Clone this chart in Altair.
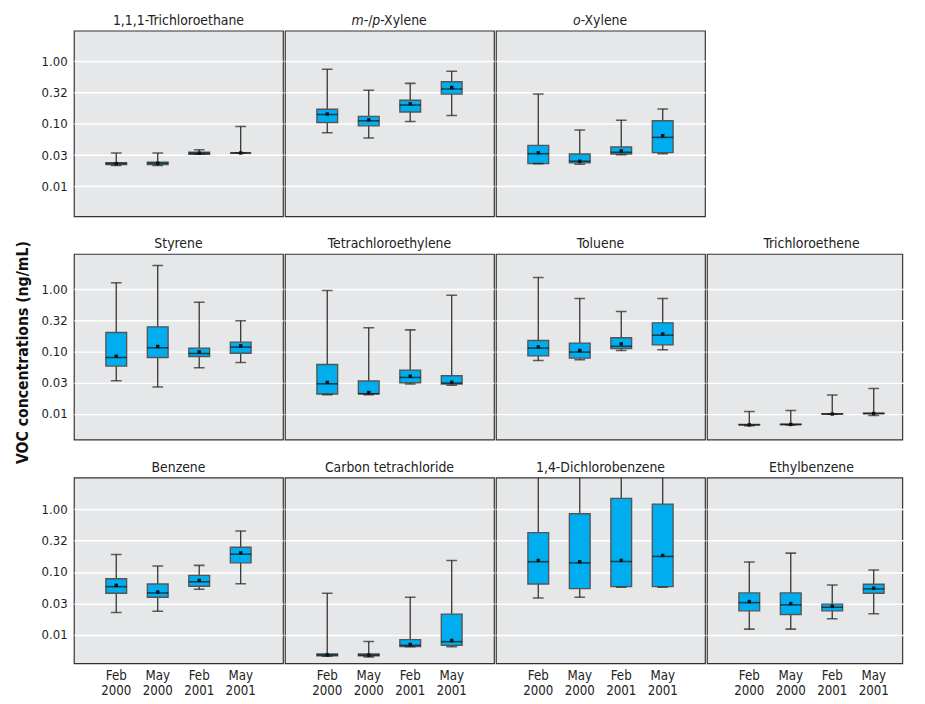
import altair as alt
import pandas as pd

# ---------------- data ----------------
PERIODS = ["Feb 2000", "May 2000", "Feb 2001", "May 2001"]

ROW1 = ["1,1,1-Trichloroethane", "m-/p-Xylene", "o-Xylene"]
ROW2 = ["Styrene", "Tetrachloroethylene", "Toluene", "Trichloroethene"]
ROW3 = ["Benzene", "Carbon tetrachloride", "1,4-Dichlorobenzene", "Ethylbenzene"]
COMPOUNDS = ROW1 + ROW2 + ROW3

# one list of 4 periods per compound, compound order as COMPOUNDS
LOW = [
    [0.0216, 0.0216, 0.0327, 0.0343],
    [0.072, 0.0593, 0.109, 0.136],
    [0.0232, 0.0226, 0.0322, 0.0334],
    [0.0343, 0.0271, 0.0553, 0.0673],
    [0.0205, 0.0205, 0.0303, 0.029],
    [0.0726, 0.0745, 0.105, 0.1076],
    [0.0065, 0.0067, 0.0099, 0.0095],
    [0.0228, 0.0239, 0.0533, 0.0653],
    [0.0046, 0.0045, 0.0065, 0.0065],
    [0.0388, 0.0398, 0.0575, 0.0575],
    [0.0124, 0.0124, 0.0181, 0.0217],
]
Q1 = [
    [0.0223, 0.0223, 0.0327, 0.0343],
    [0.105, 0.093, 0.155, 0.299],
    [0.0232, 0.0238, 0.033, 0.0347],
    [0.059, 0.081, 0.084, 0.095],
    [0.021, 0.0212, 0.0318, 0.0303],
    [0.086, 0.079, 0.113, 0.129],
    [0.0067, 0.0068, 0.0100, 0.0102],
    [0.046, 0.0398, 0.0594, 0.14],
    [0.00466, 0.00466, 0.00653, 0.00686],
    [0.0646, 0.0545, 0.0586, 0.0586],
    [0.0242, 0.0212, 0.0242, 0.046],
]
MEDIAN = [
    [0.0232, 0.0235, 0.034, 0.0343],
    [0.141, 0.112, 0.20, 0.36],
    [0.0334, 0.0253, 0.0352, 0.0608],
    [0.081, 0.116, 0.094, 0.119],
    [0.0306, 0.0212, 0.0387, 0.0314],
    [0.1147, 0.099, 0.123, 0.185],
    [0.0067, 0.0068, 0.0100, 0.0102],
    [0.0586, 0.0466, 0.0703, 0.192],
    [0.00484, 0.0048, 0.00686, 0.00784],
    [0.146, 0.14, 0.1476, 0.177],
    [0.0327, 0.0301, 0.0277, 0.054],
]
Q3 = [
    [0.0240, 0.0245, 0.0352, 0.0343],
    [0.171, 0.132, 0.238, 0.471],
    [0.0454, 0.033, 0.0427, 0.112],
    [0.204, 0.252, 0.1147, 0.143],
    [0.0625, 0.0339, 0.0508, 0.0412],
    [0.152, 0.138, 0.168, 0.292],
    [0.0068, 0.0069, 0.0101, 0.0103],
    [0.0784, 0.0646, 0.0887, 0.248],
    [0.00501, 0.0050, 0.00843, 0.0215],
    [0.424, 0.845, 1.48, 1.20],
    [0.0466, 0.0466, 0.0309, 0.064],
]
HIGH = [
    [0.0343, 0.0343, 0.0387, 0.091],
    [0.746, 0.343, 0.443, 0.694],
    [0.299, 0.080, 0.1145, 0.173],
    [1.29, 2.43, 0.627, 0.315],
    [0.964, 0.243, 0.225, 0.813],
    [1.56, 0.717, 0.444, 0.717],
    [0.0110, 0.0114, 0.0202, 0.0258],
    [0.19, 0.1245, 0.1276, 0.45],
    [0.046, 0.0079, 0.0398, 0.153],
    [4.0, 5.0, 6.0, 5.0],
    [0.144, 0.20, 0.0623, 0.1076],
]
MEAN = [
    [0.0232, 0.0235, 0.034, 0.0343],
    [0.144, 0.116, 0.21, 0.382],
    [0.0346, 0.0253, 0.0369, 0.0646],
    [0.085, 0.122, 0.100, 0.125],
    [0.0322, 0.0222, 0.0406, 0.0325],
    [0.12, 0.105, 0.134, 0.194],
    [0.0067, 0.0068, 0.0100, 0.0102],
    [0.0616, 0.0482, 0.074, 0.202],
    [0.00484, 0.0048, 0.0071, 0.0082],
    [0.153, 0.146, 0.153, 0.184],
    [0.034, 0.0316, 0.0285, 0.0555],
]

Y_TICKS = [0.01, 0.0316, 0.1, 0.316, 1.0]
Y_TITLE = "VOC concentrations (ng/mL)"

# ---------------- styling / layout ----------------
FONT = "DejaVu Sans Condensed, DejaVu Sans, sans-serif"
BOX_FILL = "#00AEEF"
ROW_DOMAINS = [[0.00334, 3.07], [0.00389, 3.74], [0.00356, 3.16]]
ROW_HEIGHTS = [190, 190, 190]
PANEL_W = 214
LAST_W = 200
TITLE_SIZE = 14.2
TICK_SIZE = 13.3
YTITLE_X = -52
YTITLE_SHIFT = 6
LEFT_EDGE = -61

# title pieces (italic flags) for some panel headings
TITLE_PIECES = {
    "m-/p-Xylene": [("m", True), ("-/", False), ("p", True), ("-Xylene", False)],
    "o-Xylene": [("o", True), ("-Xylene", False)],
}
CHAR_W = {"m": 974, "-": 361, "/": 337, "p": 635, "X": 685, "y": 592,
          "l": 278, "e": 615, "n": 634, "o": 612}


def text_width(s):
    return sum(CHAR_W.get(c, 600) for c in s) * 0.9 * TITLE_SIZE / 1000.0


def frame(name):
    i = COMPOUNDS.index(name)
    return pd.DataFrame({
        "period": PERIODS,
        "lo": LOW[i], "q1": Q1[i], "med": MEDIAN[i],
        "q3": Q3[i], "hi": HIGH[i], "mean": MEAN[i],
    })


def title_layer(text, xpos, align, italic):
    return alt.Chart(pd.DataFrame({"t": [text]})).mark_text(
        align=align, baseline="alphabetic", font=FONT, fontSize=TITLE_SIZE,
        fontStyle="italic" if italic else "normal", color="#222"
    ).encode(x=alt.value(xpos), y=alt.value(-6), text="t:N")


def panel(name, row, col, width):
    df = frame(name)
    height = ROW_HEIGHTS[row]
    last_row = row == 2
    x_axis = alt.Axis(title=None, labelExpr="split(datum.label, ' ')", ticks=False,
                      domain=False, labelPadding=6, labelFontSize=13.5, labelLineHeight=15,
                      labelAngle=0, labelFont=FONT, labelColor="#222") if last_row else None
    xs = alt.Scale(type="band", domain=PERIODS, paddingInner=0.5, paddingOuter=0.77,
                   range=[0, PANEL_W])
    x = alt.X("period:N", scale=xs, axis=x_axis, sort=PERIODS)

    if col == 0:
        y_axis = alt.Axis(values=Y_TICKS, format=".2f", grid=True, ticks=False, tickSize=0,
                          domain=False, labelPadding=7, labelFontSize=TICK_SIZE, labelFont=FONT,
                          labelColor="#222", title=None)
    else:
        y_axis = alt.Axis(values=Y_TICKS, grid=True, labels=False, ticks=False, tickSize=0,
                          domain=False, title=None)
    ys = alt.Scale(type="log", domain=ROW_DOMAINS[row], nice=False)

    base = alt.Chart(df)
    whisker = base.mark_rule(color="#333", strokeWidth=1.3, clip=True).encode(
        x=x, y=alt.Y("lo:Q", scale=ys, axis=y_axis), y2="hi:Q")
    box = base.mark_bar(fill=BOX_FILL, stroke="#555", strokeWidth=1.4, clip=True).encode(
        x=x, y=alt.Y("q1:Q", scale=ys), y2="q3:Q")
    cap_lo = base.mark_tick(color="#222", size=11, thickness=1.6, clip=True).encode(
        x=x, y=alt.Y("lo:Q", scale=ys))
    cap_hi = base.mark_tick(color="#222", size=11, thickness=1.6, clip=True).encode(
        x=x, y=alt.Y("hi:Q", scale=ys))
    med = base.mark_tick(color="#111", size=21.5, thickness=1.6).encode(
        x=x, y=alt.Y("med:Q", scale=ys))
    mean = base.mark_square(color="#111", size=12, opacity=1).encode(
        x=x, y=alt.Y("mean:Q", scale=ys))

    layers = [whisker, box, cap_lo, cap_hi, med, mean]
    center = PANEL_W / 2

    if name in TITLE_PIECES:
        pieces = TITLE_PIECES[name]
        total = sum(text_width(t) for t, _ in pieces)
        xpos = center - total / 2
        for t, ital in pieces:
            layers.append(title_layer(t, xpos, "left", ital))
            xpos += text_width(t)
    else:
        layers.append(title_layer(name, center, "center", False))

    if col == 0:
        if row == 1:
            layers.append(
                alt.Chart(pd.DataFrame({"t": [Y_TITLE]})).mark_text(
                    angle=270, align="center", baseline="middle", font=FONT,
                    fontSize=16, fontWeight="bold", color="#111"
                ).encode(x=alt.value(YTITLE_X), y=alt.value(height / 2 + YTITLE_SHIFT),
                         text="t:N")
            )
        else:
            # invisible guide keeping the left edge of every row identical
            layers.append(
                base.mark_rule(strokeOpacity=0).encode(
                    x=alt.value(LEFT_EDGE), y=alt.value(height / 2 - 2),
                    y2=alt.value(height / 2 + 2))
            )
    return alt.layer(*layers).properties(width=width, height=height)


rows = []
for r, names in enumerate([ROW1, ROW2, ROW3]):
    charts = [panel(n, r, c, LAST_W if c == 3 else PANEL_W) for c, n in enumerate(names)]
    rows.append(alt.hconcat(*charts, spacing=0))

top_part = alt.vconcat(rows[0], rows[1], spacing=19.5)
chart = alt.vconcat(top_part, rows[2], spacing=-5.5).properties(
    padding={"left": 5.5, "top": -3, "right": 0, "bottom": 0},
).configure_view(
    fill="#E6E7E8", stroke="#333", strokeWidth=1.2
).configure_axis(
    gridColor="#FFFFFF", gridWidth=1.5, gridOpacity=1
).configure_concat(spacing=0)

chart.save("out.html", embed_options={"renderer": "svg", "actions": False})
